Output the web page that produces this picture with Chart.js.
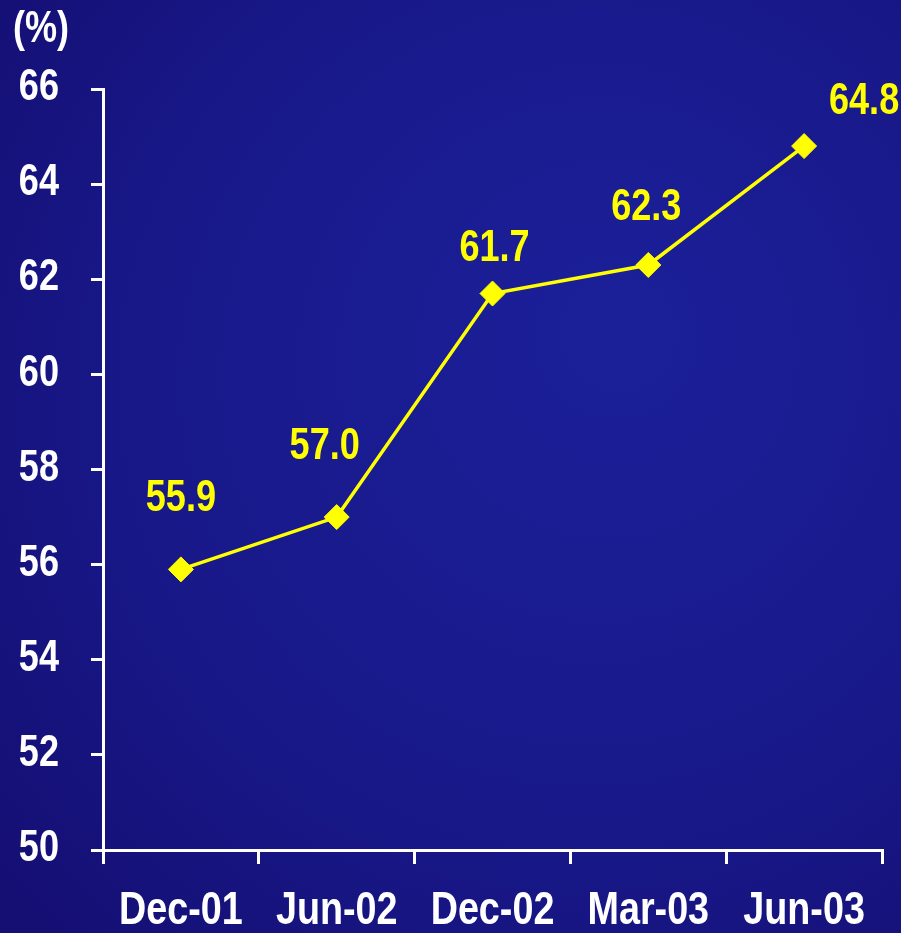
<!DOCTYPE html>
<html>
<head>
<meta charset="utf-8">
<script src="https://cdn.jsdelivr.net/npm/chart.js@4/dist/chart.umd.min.js"></script>
<style>
  html, body { margin: 0; padding: 0; background: #16127a; }
  #wrap { width: 901px; height: 933px; }
</style>
</head>
<body>
<div id="wrap"><canvas id="lineChart" width="901" height="933"></canvas></div>
<script>
var labels = ['Dec-01', 'Jun-02', 'Dec-02', 'Mar-03', 'Jun-03'];
var ratio = [55.9, 57.0, 61.7, 62.3, 64.8];
var yTicks = [50, 52, 54, 56, 58, 60, 62, 64, 66];

var fontFamily = '"Liberation Sans", Arial, sans-serif';
var yellow = '#ffff00';
var narrow = 0.82; // squeeze text sideways, like a narrow bold face

// where each value label sits relative to its point
var labelShift = [[0, -71], [-12, -70], [2, -45], [-2, -57], [60, -44]];

function narrowText(c, text, x, y, align) {
    var w = c.measureText(text).width * narrow;
    var left = align === 'right' ? x - w : (align === 'center' ? x - w / 2 : x);
    c.save();
    c.translate(left, y);
    c.scale(narrow, 1);
    c.textAlign = 'left';
    c.fillText(text, 0, 0);
    c.restore();
}

var backdrop = {
    id: 'backdrop',
    beforeDraw: function(chart) {
        var c = chart.ctx, w = chart.width, h = chart.height;
        c.save();
        var g = c.createRadialGradient(620, 330, 40, 560, 420, 720);
        g.addColorStop(0, '#1b1f98');
        g.addColorStop(0.6, '#181889');
        g.addColorStop(1, '#150f74');
        c.fillStyle = g;
        c.fillRect(0, 0, w, h);
        c.restore();
    }
};

// axis labels, value labels and the unit, all in the narrow bold style
var textLayer = {
    id: 'textLayer',
    afterDraw: function(chart) {
        var c = chart.ctx;
        var xs = chart.scales.x, ys = chart.scales.y;
        c.save();
        c.textBaseline = 'middle';

        c.fillStyle = '#ffffff';
        c.font = 'bold 44px ' + fontFamily;
        yTicks.forEach(function(v) {
            narrowText(c, String(v), 59, ys.getPixelForValue(v) - 1, 'right');
        });

        c.font = 'bold 46px ' + fontFamily;
        labels.forEach(function(lab, i) {
            narrowText(c, lab, xs.getPixelForValue(i), 911, 'center');
        });

        c.font = 'bold 44px ' + fontFamily;
        narrowText(c, '(%)', 13, 30, 'left');

        c.fillStyle = yellow;
        c.font = 'bold 44px ' + fontFamily;
        var meta = chart.getDatasetMeta(0);
        meta.data.forEach(function(pt, i) {
            narrowText(c, ratio[i].toFixed(1), pt.x + labelShift[i][0], pt.y + labelShift[i][1], 'center');
        });
        c.restore();
    }
};

var ctx = document.getElementById('lineChart').getContext('2d');

new Chart(ctx, {
    type: 'line',
    data: {
        labels: labels,
        datasets: [{
            data: ratio,
            borderColor: yellow,
            borderWidth: 3.5,
            backgroundColor: yellow,
            pointStyle: 'rectRot',
            pointRadius: 12.5,
            pointBorderWidth: 1,
            pointBorderColor: yellow,
            tension: 0
        }]
    },
    options: {
        responsive: false,
        animation: false,
        layout: {
            padding: { left: 0, right: 19, top: 89, bottom: 0 }
        },
        plugins: {
            legend: { display: false },
            tooltip: { enabled: false }
        },
        scales: {
            y: {
                min: 50,
                max: 66,
                afterBuildTicks: function(scale) {
                    scale.ticks = yTicks.map(function(v) { return { value: v }; });
                },
                afterFit: function(scale) { scale.width = 103; },
                border: { display: true, color: '#ffffff', width: 3 },
                grid: {
                    drawOnChartArea: false,
                    drawTicks: true,
                    tickLength: 12,
                    color: '#ffffff',
                    lineWidth: 3
                },
                ticks: { display: false }
            },
            x: {
                offset: true,
                afterFit: function(scale) { scale.height = 83; },
                border: { display: true, color: '#ffffff', width: 3 },
                grid: {
                    offset: true,
                    drawOnChartArea: false,
                    drawTicks: true,
                    tickLength: 14,
                    color: '#ffffff',
                    lineWidth: 3
                },
                ticks: { display: false }
            }
        }
    },
    plugins: [backdrop, textLayer]
});
</script>
</body>
</html>
